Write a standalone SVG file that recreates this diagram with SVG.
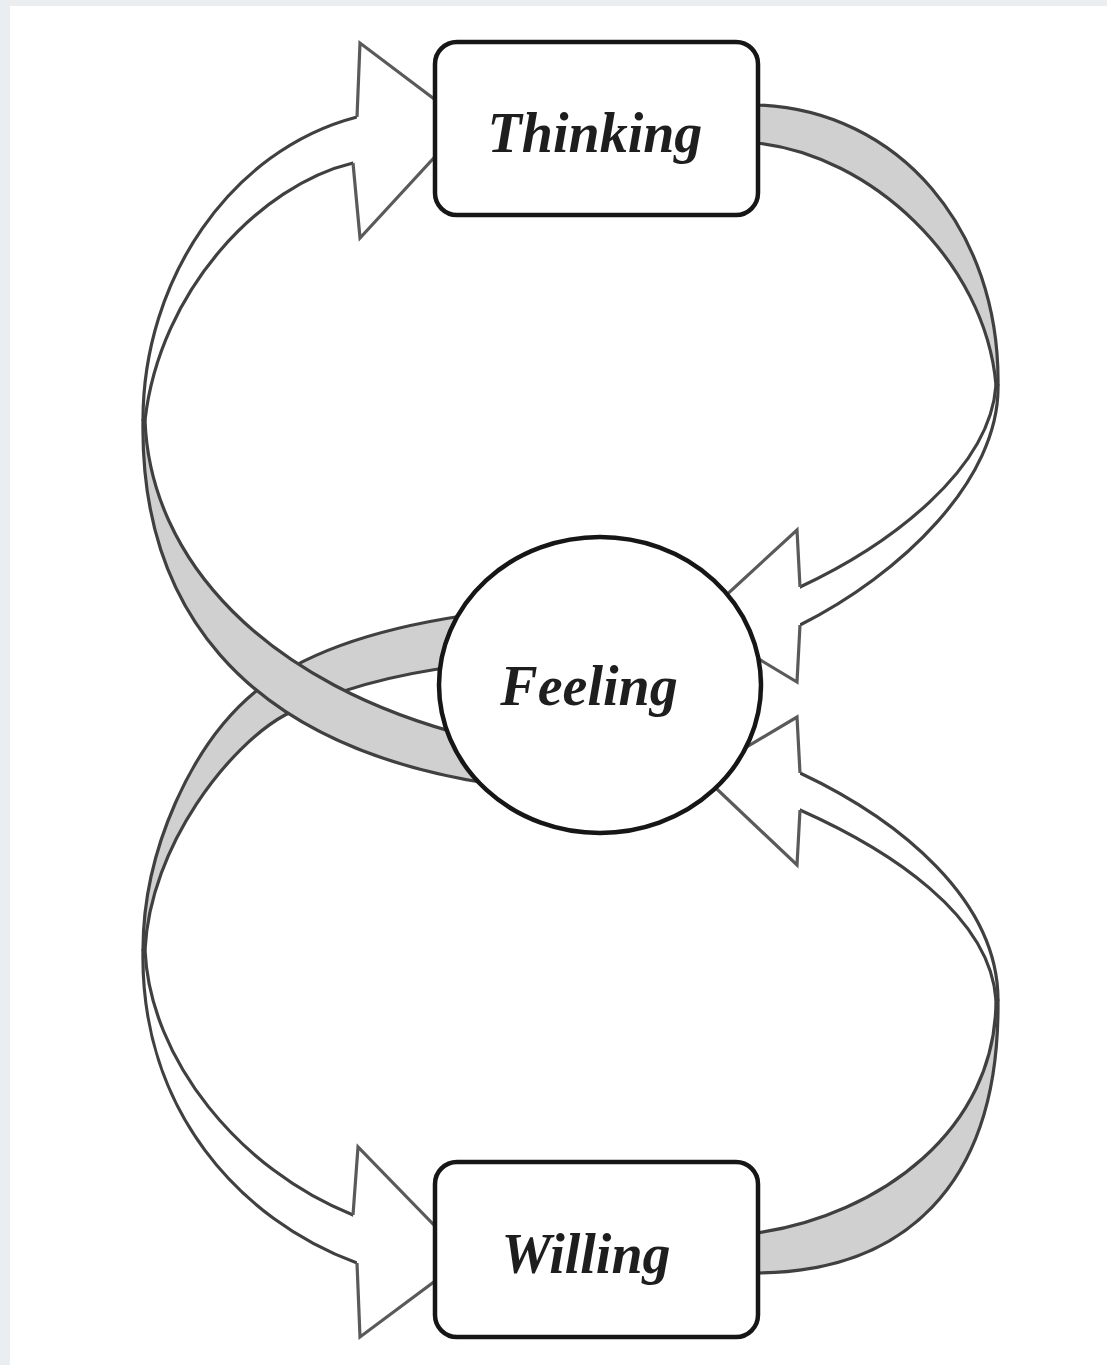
<svg xmlns="http://www.w3.org/2000/svg" width="1107" height="1365" viewBox="0 0 1107 1365">
<style>
.gfill{fill:#d0d0d0;stroke:none}
.wfill{fill:#ffffff;stroke:none}
.edge{fill:none;stroke:#404040;stroke-width:3.2;stroke-linecap:round}
.head{fill:#ffffff;stroke:none}
.headline{fill:none;stroke:#5a5a5a;stroke-width:3.2;stroke-linejoin:miter}
.node{fill:#ffffff;stroke:#161616;stroke-width:4.5}
.lbl{font-family:"Liberation Serif","Times New Roman",serif;font-weight:bold;font-style:italic;font-size:56px;fill:#1e1e1e;text-anchor:middle}
</style>
<rect x="0" y="0" width="1107" height="1365" fill="#eaeef1"/>
<rect x="10" y="6" width="1097" height="1359" fill="#ffffff"/>
<g id="connectors">
  <!-- lower loop gray band (under) -->
  <g id="band-lower-left">
    <path class="gfill" d="M462,616 C370,630 300,655 255,692 C192,744 143,850 143,950 L145,950 C150,845 230,745 285,715 C335,690 395,674 460,666 Z"/>
    <path class="edge" d="M462,616 C370,630 300,655 255,692 C192,744 143,850 143,950"/>
    <path class="edge" d="M460,666 C395,674 335,690 285,715 C230,745 150,845 145,950"/>
  </g>
  <!-- upper loop gray band (over) -->
  <g id="band-upper-left">
    <path class="gfill" d="M143,420 C140,600 235,745 492,784 L472,737 C265,685 150,560 145,420 Z"/>
    <path class="edge" d="M143,420 C140,600 235,745 492,784"/>
    <path class="edge" d="M145,420 C150,560 265,685 472,737"/>
  </g>
  <!-- upper-left white ribbon to Thinking -->
  <g id="ribbon-to-thinking">
    <path class="wfill" d="M357,117 C230,150 143,280 143,420 L145,420 C160,290 260,185 353,163 Z"/>
    <path class="edge" d="M357,117 C230,150 143,280 143,420"/>
    <path class="edge" d="M353,163 C260,185 160,290 145,420"/>
    <polygon class="head" points="357,117 360,43 466,123 360,238 353,163"/>
    <polyline class="headline" points="357,117 360,43 466,123 360,238 353,163"/>
  </g>
  <!-- upper-right gray band from Thinking -->
  <g id="band-upper-right">
    <path class="gfill" d="M745,105 L757,105 C900,110 1000,230 998,385 L996,385 C985,260 870,155 757,143 L745,143 Z"/>
    <path class="edge" d="M745,105 L757,105 C900,110 1000,230 998,385"/>
    <path class="edge" d="M745,143 L757,143 C870,155 985,260 996,385"/>
  </g>
  <!-- upper-right white ribbon to Feeling -->
  <g id="ribbon-to-feeling-upper">
    <path class="wfill" d="M998,385 C1000,480 900,575 800,625 L800,587 C890,545 990,470 996,385 Z"/>
    <path class="edge" d="M998,385 C1000,480 900,575 800,625"/>
    <path class="edge" d="M996,385 C990,470 890,545 800,587"/>
    <polygon class="head" points="800,587 797,530 697,622 797,682 800,625"/>
    <polyline class="headline" points="800,587 797,530 697,622 797,682 800,625"/>
  </g>
  <!-- lower-left white ribbon to Willing -->
  <g id="ribbon-to-willing">
    <path class="wfill" d="M143,950 C140,1110 240,1220 357,1263 L353,1215 C240,1170 150,1060 145,950 Z"/>
    <path class="edge" d="M143,950 C140,1110 240,1220 357,1263"/>
    <path class="edge" d="M145,950 C150,1060 240,1170 353,1215"/>
    <polygon class="head" points="353,1215 358,1147 466,1258 360,1337 357,1263"/>
    <polyline class="headline" points="353,1215 358,1147 466,1258 360,1337 357,1263"/>
  </g>
  <!-- lower-right gray band from Willing -->
  <g id="band-lower-right">
    <path class="gfill" d="M745,1233 L757,1233 C880,1215 996,1130 996,1000 L998,1000 C1000,1190 900,1272 757,1273 L745,1273 Z"/>
    <path class="edge" d="M745,1233 L757,1233 C880,1215 996,1130 996,1000"/>
    <path class="edge" d="M745,1273 L757,1273 C900,1272 1000,1190 998,1000"/>
  </g>
  <!-- lower-right white ribbon to Feeling -->
  <g id="ribbon-to-feeling-lower">
    <path class="wfill" d="M998,1000 C998,900 900,820 800,773 L800,810 C890,850 990,915 996,1000 Z"/>
    <path class="edge" d="M998,1000 C998,900 900,820 800,773"/>
    <path class="edge" d="M996,1000 C990,915 890,850 800,810"/>
    <polygon class="head" points="800,773 797,717 701,774 797,865 800,810"/>
    <polyline class="headline" points="800,773 797,717 701,774 797,865 800,810"/>
  </g>
</g>
<g id="node-thinking">
  <rect class="node" x="435" y="42" width="323" height="173" rx="22" ry="22"/>
  <text class="lbl" x="595" y="152">Thinking</text>
</g>
<g id="node-feeling">
  <ellipse class="node" cx="600" cy="685" rx="161" ry="148"/>
  <text class="lbl" x="589" y="705">Feeling</text>
</g>
<g id="node-willing">
  <rect class="node" x="435" y="1162" width="323" height="175" rx="22" ry="22"/>
  <text class="lbl" x="586" y="1273">Willing</text>
</g>
</svg>
